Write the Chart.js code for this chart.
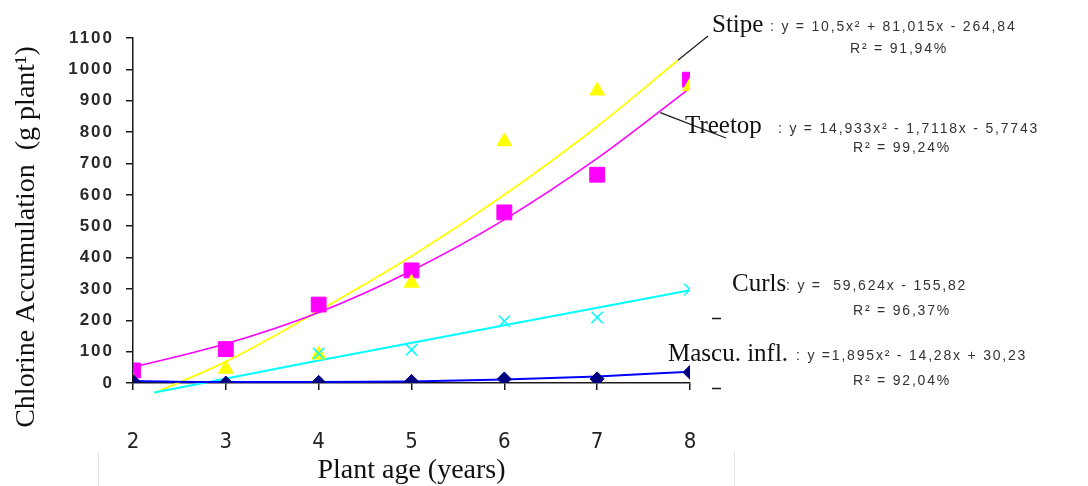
<!DOCTYPE html>
<html>
<head>
<meta charset="utf-8">
<script src="https://cdn.jsdelivr.net/npm/chart.js@4.4.1/dist/chart.umd.min.js"></script>
<style>
html,body{margin:0;padding:0;background:#fff;}
#wrap{width:1088px;height:486px;position:relative;}
</style>
</head>
<body>
<div id="wrap"><canvas id="c"></canvas></div>
<script>
// ---- data ----
const ages = [2, 3, 4, 5, 6, 7, 8];
const treetopValues = [40, 108, 250, 359, 544, 664, 967];
const stipeValues   = [3, 45, 90, 319, 770, 932, 946];
const curlsValues   = [null, null, 94, 106, 197, 209, 298];
const mascuValues   = [5, 0, 2, 5, 13, 13, 34];

// trend lines as drawn in the picture
const stipeTrendX   = [2.23, 3, 4, 5, 6, 7, 7.87];
const stipeTrendY   = [-32, 68, 230, 404, 600, 818, 1029];
const treetopTrendX = [2, 3, 4, 5, 6, 7, 8];
const treetopTrendY = [50, 125, 225, 358, 521, 716, 940];
const curlsTrendX   = [2.23, 4, 6, 8];
const curlsTrendY   = [-30, 72, 184, 296];
const mascuTrendX   = [2, 3, 4, 5, 6, 7, 8];
const mascuTrendY   = [6, 3, 3, 5, 11, 21, 36];

// tick labels
const xTickValues = [2, 3, 4, 5, 6, 7, 8];
const yTickValues = [0, 100, 200, 300, 400, 500, 600, 700, 800, 900, 1000, 1100];

// texts
const seriesNames = ['Stipe', 'Treetop', 'Curls', 'Mascu. infl.'];
const equations = [
  ': y = 10,5x² + 81,015x - 264,84',
  ': y = 14,933x² - 1,7118x - 5,7743',
  ': y =  59,624x - 155,82',
  ': y =1,895x² - 14,28x + 30,23'
];
const rSquared = ['R² = 91,94%', 'R² = 99,24%', 'R² = 96,37%', 'R² = 92,04%'];
const xTitle = 'Plant age (years)';
const yTitle = 'Chlorine Accumulation  (g plant¹)';

function pts(xs, ys) { return xs.map((x, i) => ({ x: x, y: ys[i] })); }

// y scale whose labels are letter-spaced like the reference
class SpacedLinear extends Chart.LinearScale {
  drawLabels(area) {
    const ctx = this.ctx;
    ctx.save();
    if ('letterSpacing' in ctx) ctx.letterSpacing = '2px';
    super.drawLabels(area);
    ctx.restore();
  }
}
SpacedLinear.id = 'spacedLinear';
SpacedLinear.defaults = Chart.LinearScale.defaults;
Chart.register(SpacedLinear);

const notes = {
  id: 'notes',
  afterDraw(chart) {
    const ctx = chart.ctx;
    const xs = chart.scales.x, ys = chart.scales.y;
    ctx.save();
    // leader lines
    ctx.strokeStyle = '#1a1a1a';
    ctx.lineWidth = 1.2;
    ctx.beginPath();
    ctx.moveTo(xs.getPixelForValue(stipeTrendX[stipeTrendX.length - 1]), ys.getPixelForValue(stipeTrendY[stipeTrendY.length - 1]));
    ctx.lineTo(708, 36);
    ctx.moveTo(xs.getPixelForValue(7.68), ys.getPixelForValue(862));
    ctx.lineTo(726, 138);
    ctx.stroke();
    // little dashes
    ctx.lineWidth = 1.5;
    ctx.beginPath();
    ctx.moveTo(712, 318.5); ctx.lineTo(721, 318.5);
    ctx.moveTo(712, 388.5); ctx.lineTo(721, 388.5);
    ctx.stroke();
    // faint frame lines at the bottom
    ctx.strokeStyle = '#e2e2e2';
    ctx.lineWidth = 1;
    ctx.beginPath();
    ctx.moveTo(98.5, 452); ctx.lineTo(98.5, 486);
    ctx.moveTo(734.5, 452); ctx.lineTo(734.5, 486);
    ctx.stroke();

    // series names
    ctx.fillStyle = '#111';
    ctx.font = '25px "Liberation Serif", "Times New Roman", serif';
    ctx.textAlign = 'left';
    ctx.textBaseline = 'alphabetic';
    const nameXY = [[712, 32], [685, 133], [732, 291], [668, 361]];
    seriesNames.forEach((t, i) => ctx.fillText(t, nameXY[i][0], nameXY[i][1]));

    // equations and R²
    ctx.fillStyle = '#333';
    ctx.font = '14px "Liberation Sans", Arial, sans-serif';
    if ('letterSpacing' in ctx) ctx.letterSpacing = '1.8px';
    const eqXY = [[770, 31], [778, 133], [786, 290], [796, 360]];
    equations.forEach((t, i) => ctx.fillText(t, eqXY[i][0], eqXY[i][1]));
    const rXY = [[850, 53], [853, 152], [853, 315], [853, 385]];
    rSquared.forEach((t, i) => ctx.fillText(t, rXY[i][0], rXY[i][1]));
    if ('letterSpacing' in ctx) ctx.letterSpacing = '0px';

    // axis titles
    ctx.fillStyle = '#111';
    ctx.font = '28px "Liberation Serif", "Times New Roman", serif';
    ctx.textAlign = 'center';
    ctx.fillText(xTitle, (xs.left + xs.right) / 2, 478);
    ctx.translate(34, 237);
    ctx.rotate(-Math.PI / 2);
    ctx.fillText(yTitle, 0, 0);
    ctx.restore();
  }
};

const axisColor = '#1a1a1a';

new Chart(document.getElementById('c'), {
  type: 'scatter',
  data: {
    datasets: [
      { label: 'Mascu. infl.', data: pts(ages, mascuValues), pointStyle: 'rectRot', pointRadius: 7,
        backgroundColor: '#000080', borderColor: '#000080', borderWidth: 1, order: 1 },
      { label: 'Curls', data: pts(ages, curlsValues), pointStyle: 'crossRot', pointRadius: 8,
        backgroundColor: '#00ffff', borderColor: '#00ffff', borderWidth: 1.5, order: 2 },
      { label: 'Stipe', data: pts(ages, stipeValues), pointStyle: 'triangle', pointRadius: 8.5,
        backgroundColor: '#ffff00', borderColor: '#ffff00', borderWidth: 1, order: 3 },
      { label: 'Treetop', data: pts(ages, treetopValues), pointStyle: 'rect', pointRadius: 10.5,
        backgroundColor: '#ff00ff', borderColor: '#ff00ff', borderWidth: 1, order: 4 },
      { label: 'Mascu. infl. trend', data: pts(mascuTrendX, mascuTrendY), showLine: true, pointRadius: 0,
        borderColor: '#0000ff', borderWidth: 2, cubicInterpolationMode: 'monotone', clip: false, order: 5 },
      { label: 'Curls trend', data: pts(curlsTrendX, curlsTrendY), showLine: true, pointRadius: 0,
        borderColor: '#00ffff', borderWidth: 2, clip: false, order: 6 },
      { label: 'Treetop trend', data: pts(treetopTrendX, treetopTrendY), showLine: true, pointRadius: 0,
        borderColor: '#ff00ff', borderWidth: 1.6, cubicInterpolationMode: 'monotone', clip: false, order: 7 },
      { label: 'Stipe trend', data: pts(stipeTrendX, stipeTrendY), showLine: true, pointRadius: 0,
        borderColor: '#ffff00', borderWidth: 1.8, cubicInterpolationMode: 'monotone', clip: false, order: 8 }
    ]
  },
  options: {
    responsive: true,
    maintainAspectRatio: false,
    animation: false,
    events: [],
    layout: { padding: { left: 0, top: 38, right: 398, bottom: 0 } },
    plugins: { legend: { display: false }, tooltip: { enabled: false }, title: { display: false } },
    scales: {
      x: {
        type: 'linear', min: 2, max: 8,
        afterBuildTicks(s) { s.ticks = xTickValues.map(v => ({ value: v })); },
        afterFit(s) { s.height = 103; },
        ticks: { color: '#222', padding: 39, callback: v => String(v),
          font: { family: '"Liberation Sans Narrow", "DejaVu Sans Condensed", "Liberation Sans", sans-serif', size: 22 } },
        grid: { drawOnChartArea: false, drawTicks: true, tickLength: 7, color: axisColor, lineWidth: 1.5 },
        border: { display: true, color: axisColor, width: 1.5 }
      },
      y: {
        type: 'spacedLinear', min: 0, max: 1100,
        afterBuildTicks(s) { s.ticks = yTickValues.map(v => ({ value: v })); },
        afterFit(s) { s.width = 133; },
        ticks: { color: '#2a2a2a', padding: 12, callback: v => String(v),
          font: { family: '"Liberation Sans", Arial, sans-serif', size: 17, weight: 'bold' } },
        grid: { drawOnChartArea: false, drawTicks: true, tickLength: 7, color: axisColor, lineWidth: 1.5 },
        border: { display: true, color: axisColor, width: 1.5 }
      }
    }
  },
  plugins: [notes]
});
</script>
</body>
</html>
